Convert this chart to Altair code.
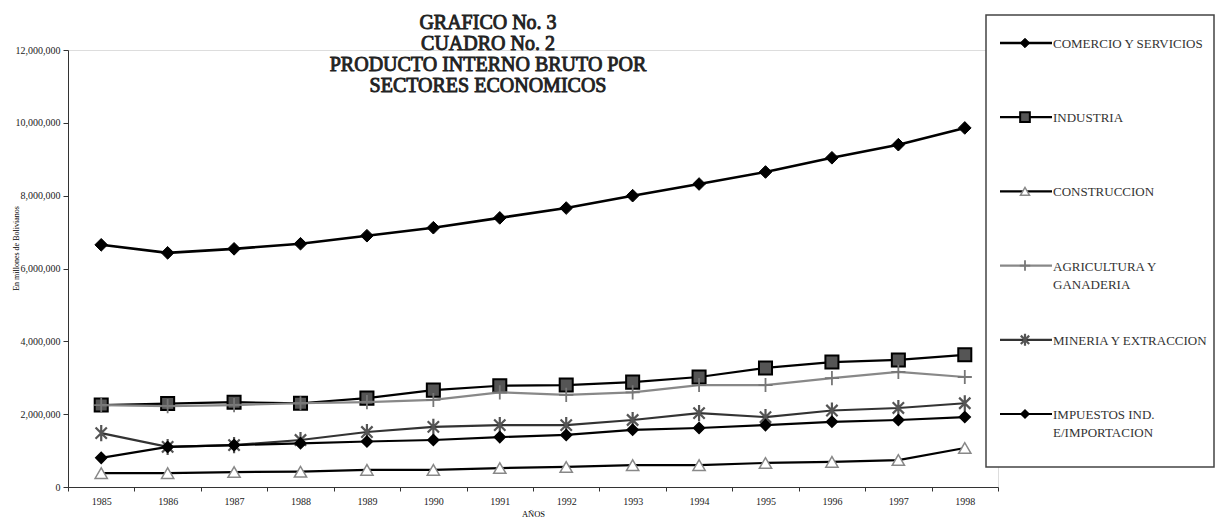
import altair as alt
import pandas as pd

years = [str(y) for y in range(1985, 1999)]
series = ["COMERCIO Y SERVICIOS", "INDUSTRIA", "CONSTRUCCION",
          "AGRICULTURA Y GANADERIA", "MINERIA Y EXTRACCION",
          "IMPUESTOS IND. E/IMPORTACION"]
legend_labels = ["COMERCIO Y SERVICIOS", "INDUSTRIA", "CONSTRUCCION",
                 "AGRICULTURA Y\nGANADERIA", "MINERIA Y EXTRACCION",
                 "IMPUESTOS  IND.\nE/IMPORTACION"]
comercio = [6650000, 6430000, 6540000, 6680000, 6900000, 7120000, 7390000,
            7660000, 8000000, 8320000, 8650000, 9040000, 9400000, 9860000]
industria = [2250000, 2290000, 2330000, 2300000, 2440000, 2660000, 2780000,
             2800000, 2880000, 3020000, 3270000, 3430000, 3490000, 3630000]
construccion = [380000, 380000, 410000, 420000, 470000, 470000, 520000,
                550000, 600000, 600000, 660000, 690000, 740000, 1070000]
agricultura = [2250000, 2220000, 2250000, 2300000, 2330000, 2390000, 2600000,
               2530000, 2600000, 2800000, 2800000, 2990000, 3160000, 3020000]
mineria = [1480000, 1100000, 1150000, 1290000, 1510000, 1650000, 1700000,
           1700000, 1840000, 2030000, 1920000, 2100000, 2170000, 2300000]
impuestos = [800000, 1100000, 1150000, 1200000, 1250000, 1290000, 1370000,
             1430000, 1570000, 1620000, 1700000, 1790000, 1840000, 1920000]
title_lines = ["GRAFICO No.  3", "CUADRO No. 2", "PRODUCTO INTERNO BRUTO POR",
               "SECTORES ECONOMICOS"]
y_ticks = [0, 2000000, 4000000, 6000000, 8000000, 10000000, 12000000]

values = [comercio, industria, construccion, agricultura, mineria, impuestos]
rows = []
for s, vals in zip(series, values):
    for yr, v in zip(years, vals):
        rows.append({"year": yr, "series": s, "value": v})
df = pd.DataFrame(rows)
legend_df = pd.DataFrame({"series": series, "label": legend_labels})

ASTERISK = "M-0.7,-0.7L0.7,0.7M-0.7,0.7L0.7,-0.7M0,-1L0,1"
CROSS = "M-1,0L1,0M0,-1L0,1"

styles = {
    "COMERCIO Y SERVICIOS": dict(shape="diamond", size=160, fill="black", stroke="black", sw=1, filled=True, lc="black", lw=2.6),
    "INDUSTRIA": dict(shape="square", size=170, fill="#555555", stroke="black", sw=2, filled=True, lc="black", lw=2.2),
    "CONSTRUCCION": dict(shape="triangle-up", size=150, fill="white", stroke="#888888", sw=1.5, filled=True, lc="black", lw=2.2),
    "AGRICULTURA Y GANADERIA": dict(shape=CROSS, size=200, fill=None, stroke="#777777", sw=1.8, filled=False, lc="#888888", lw=2.2),
    "MINERIA Y EXTRACCION": dict(shape=ASTERISK, size=260, fill=None, stroke="#555555", sw=2.2, filled=False, lc="#333333", lw=2.2),
    "IMPUESTOS IND. E/IMPORTACION": dict(shape="diamond", size=120, fill="black", stroke="black", sw=1.5, filled=True, lc="black", lw=2.2),
}

FONT = "Liberation Serif"
x_enc = alt.X("year:O", scale=alt.Scale(type="band", paddingInner=0, paddingOuter=0),
              axis=alt.Axis(title="AÑOS", labelAngle=0, tickBand="extent",
                            labelFont=FONT, labelFontSize=10, labelColor="#222",
                            titleFont=FONT, titleFontSize=8.5, titleFontWeight="normal",
                            titlePadding=3, domainColor="#333", tickColor="#333",
                            tickSize=4, labelPadding=5))
y_scale = alt.Scale(domain=[0, 12000000], nice=False)

layers = []
first = True
for s in series:
    st = styles[s]
    if first:
        y_axis = alt.Axis(values=y_ticks, format=",.0f", title="En millones de Bolivianos",
                          labelFont=FONT, labelFontSize=10, labelColor="#222",
                          titleFont=FONT, titleFontSize=8, titleFontWeight="normal",
                          titleX=-48, titleY=198, grid=False,
                          domainColor="#333", tickColor="#333", tickSize=5, labelPadding=3)
        first = False
    else:
        y_axis = None
    y_enc = alt.Y("value:Q", scale=y_scale, axis=y_axis)
    base = alt.Chart(df).transform_filter(alt.datum.series == s)
    layers.append(base.mark_line(color=st["lc"], strokeWidth=st["lw"]).encode(x=x_enc, y=y_enc))
    pt_kwargs = dict(shape=st["shape"], size=st["size"], stroke=st["stroke"],
                     strokeWidth=st["sw"], filled=st["filled"], opacity=1)
    if st["fill"] is not None:
        pt_kwargs["fill"] = st["fill"]
    layers.append(base.mark_point(**pt_kwargs).encode(
        x=x_enc, y=alt.Y("value:Q", scale=y_scale, axis=None)))

# legend box
box = alt.Chart(pd.DataFrame({"k": [0]})).mark_rect(
    fill="white", stroke="#444", strokeWidth=1.5).encode(
    x=alt.value(918), x2=alt.value(1146), y=alt.value(-35), y2=alt.value(417))
layers.append(box)

leg_y = alt.Y("series:N", scale=alt.Scale(type="point", domain=series, range=[-7, 364], padding=0),
              axis=None)
for s in series:
    st = styles[s]
    lb = alt.Chart(legend_df).transform_filter(alt.datum.series == s)
    layers.append(lb.mark_rule(color=st["lc"], strokeWidth=st["lw"]).encode(
        x=alt.value(932), x2=alt.value(984), y=leg_y))
    pt_kwargs = dict(shape=st["shape"], size=st["size"] * 0.55, stroke=st["stroke"],
                     strokeWidth=st["sw"], filled=st["filled"], opacity=1)
    if st["fill"] is not None:
        pt_kwargs["fill"] = st["fill"]
    layers.append(lb.mark_point(**pt_kwargs).encode(x=alt.value(957), y=leg_y))
    layers.append(lb.mark_text(align="left", baseline="alphabetic", dy=5, lineBreak="\n",
                               lineHeight=18, font=FONT, fontSize=13, color="#333").encode(
        x=alt.value(985), y=leg_y, text="label:N"))

title_df = pd.DataFrame({"t": ["\n".join(title_lines)]})
layers.append(alt.Chart(title_df).mark_text(
    align="center", baseline="alphabetic", lineBreak="\n", lineHeight=21,
    font=FONT, fontSize=20, fontWeight="normal", color="#222",
    stroke="#222", strokeWidth=0.9).encode(
    x=alt.value(420), y=alt.value(-21), text="t:N"))

chart = alt.layer(*layers).resolve_scale(y="independent").properties(
    width=930, height=437,
    autosize=alt.AutoSizeParams(type="none"),
    padding={"left": 68, "top": 50, "right": 217, "bottom": 33},
).configure_view(stroke=None).configure(background="white")

chart.save("out.html", embed_options={"renderer": "svg", "actions": False})
